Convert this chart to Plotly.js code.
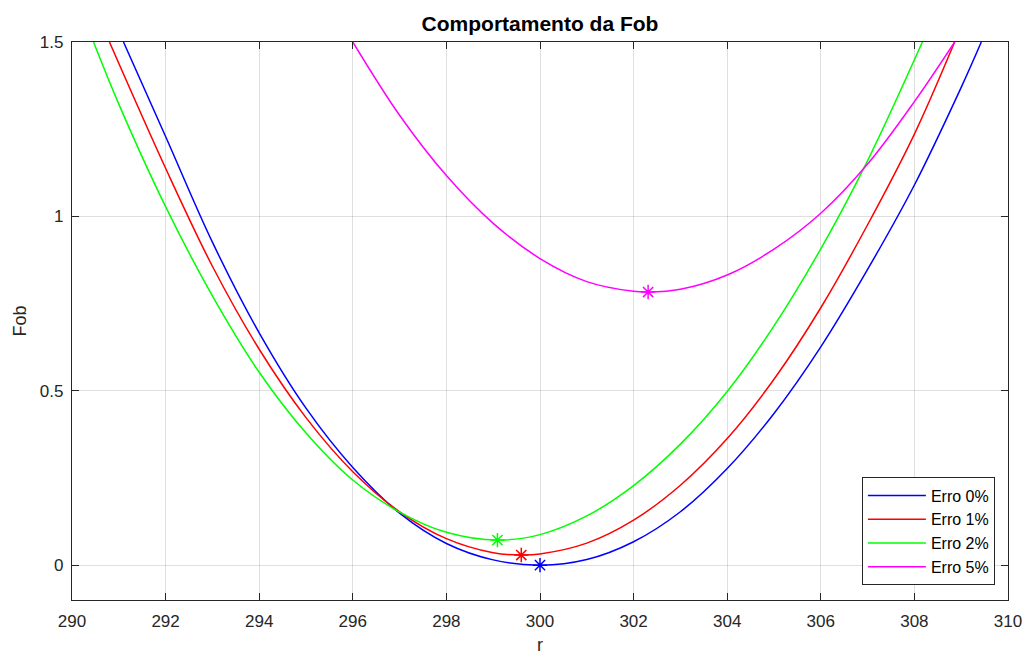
<!DOCTYPE html>
<html>
<head>
<meta charset="utf-8">
<script src="https://cdn.plot.ly/plotly-3.0.1.min.js"></script>
<style>html,body{margin:0;padding:0;background:#fff;}#chart{width:1030px;height:655px;}</style>
</head>
<body>
<div id="chart"></div>
<script>
// Erro 0%
const r0   = [291.1, 292, 293, 294, 295, 296, 297, 298, 299, 300, 301, 302, 303, 304, 305, 306, 307, 308, 309, 309.43];
const fob0 = [1.5, 1.229, 0.926, 0.666, 0.45, 0.28, 0.149, 0.062, 0.015, 0.0, 0.016, 0.067, 0.153, 0.277, 0.435, 0.626, 0.848, 1.09, 1.37, 1.5];
// Erro 1%
const r1   = [290.8, 292, 293, 294, 295, 296, 297, 298, 299, 299.6, 300, 301, 302, 303, 304, 305, 306, 307, 308, 308.86];
const fob1 = [1.5, 1.138, 0.857, 0.619, 0.423, 0.268, 0.153, 0.076, 0.0355, 0.029, 0.032, 0.063, 0.129, 0.229, 0.363, 0.533, 0.738, 0.976, 1.236, 1.5];
// Erro 2%
const r2   = [290.46, 291, 292, 293, 294, 295, 296, 297, 298, 299.09, 300, 301, 302, 303, 304, 305, 306, 307, 308.17];
const fob2 = [1.5, 1.322, 1.028, 0.772, 0.553, 0.379, 0.244, 0.152, 0.094, 0.0717, 0.0875, 0.141, 0.228, 0.347, 0.498, 0.686, 0.907, 1.16, 1.5];
// Erro 5%
const r5   = [296, 297, 298, 299, 300, 301, 302, 302.31, 303, 304, 305, 306, 307, 308, 308.86];
const fob5 = [1.5, 1.29, 1.117, 0.98, 0.879, 0.813, 0.785, 0.783, 0.791, 0.832, 0.906, 1.009, 1.15, 1.329, 1.5];
// minimum points
const minR   = [300.0, 299.6, 299.09, 302.31];
const minFob = [0.0, 0.029, 0.0717, 0.783];

const names  = ['Erro 0%', 'Erro 1%', 'Erro 2%', 'Erro 5%'];
const colors = ['#0000ff', '#ff0000', '#00ff00', '#ff00ff'];
const xs = [r0, r1, r2, r5];
const ys = [fob0, fob1, fob2, fob5];

const xTicks = [290, 292, 294, 296, 298, 300, 302, 304, 306, 308, 310];
const yTicks = [0, 0.5, 1, 1.5];
const yTickText = ['0', '0.5', '1', '1.5'];

const FONT = 'Liberation Sans, Arial, Helvetica, sans-serif';
const traces = [];
for (let i = 0; i < 4; i++) {
  traces.push({
    x: xs[i], y: ys[i], type: 'scatter', mode: 'lines', name: names[i],
    line: {color: colors[i], width: 1.5, shape: 'spline', smoothing: 1},
    hoverinfo: 'x+y'
  });
}
for (let i = 0; i < 4; i++) {
  traces.push({
    x: [minR[i]], y: [minFob[i]], type: 'scatter', mode: 'markers', showlegend: false,
    marker: {symbol: 'asterisk-open', size: 12, color: colors[i], line: {color: colors[i], width: 1.5}}
  });
}

const axisCommon = {
  showline: true, mirror: 'ticks', linecolor: '#262626', linewidth: 1.2,
  ticks: 'inside', ticklen: 7, tickcolor: '#262626', tickwidth: 1,
  showgrid: true, gridcolor: 'rgba(38,38,38,0.15)', gridwidth: 1,
  zeroline: false, tickfont: {family: FONT, size: 17, color: '#262626'},
  automargin: false
};

const layout = {
  width: 1030, height: 655,
  margin: {l: 72, r: 22, t: 42, b: 55, pad: 0},
  paper_bgcolor: '#ffffff', plot_bgcolor: '#ffffff',
  title: {text: '<b>Comportamento da Fob</b>', font: {family: FONT, size: 21, color: '#000000'},
          xref: 'paper', x: 0.5, xanchor: 'center', yref: 'container', y: 1 - 24/655, yanchor: 'middle'},
  xaxis: Object.assign({}, axisCommon, {
    range: [290, 310], tickvals: xTicks, ticktext: xTicks.map(String),
    title: {text: 'r', font: {family: FONT, size: 18, color: '#262626'}, standoff: 13},
    ticklabelstandoff: 5
  }),
  yaxis: Object.assign({}, axisCommon, {
    range: [-0.1, 1.5], tickvals: yTicks, ticktext: yTickText,
    title: {text: 'Fob', font: {family: FONT, size: 18, color: '#262626'}, standoff: 8},
    ticklabelstandoff: 4
  }),
  showlegend: true,
  legend: {
    x: 0.986, y: 0.026, xanchor: 'right', yanchor: 'bottom', xref: 'paper', yref: 'paper',
    bgcolor: '#ffffff', bordercolor: '#262626', borderwidth: 1,
    font: {family: FONT, size: 16, color: '#000000'},
    itemwidth: 58, tracegroupgap: 0
  },
  hovermode: 'closest'
};

Plotly.newPlot('chart', traces, layout, {displayModeBar: false});
</script>
</body>
</html>
